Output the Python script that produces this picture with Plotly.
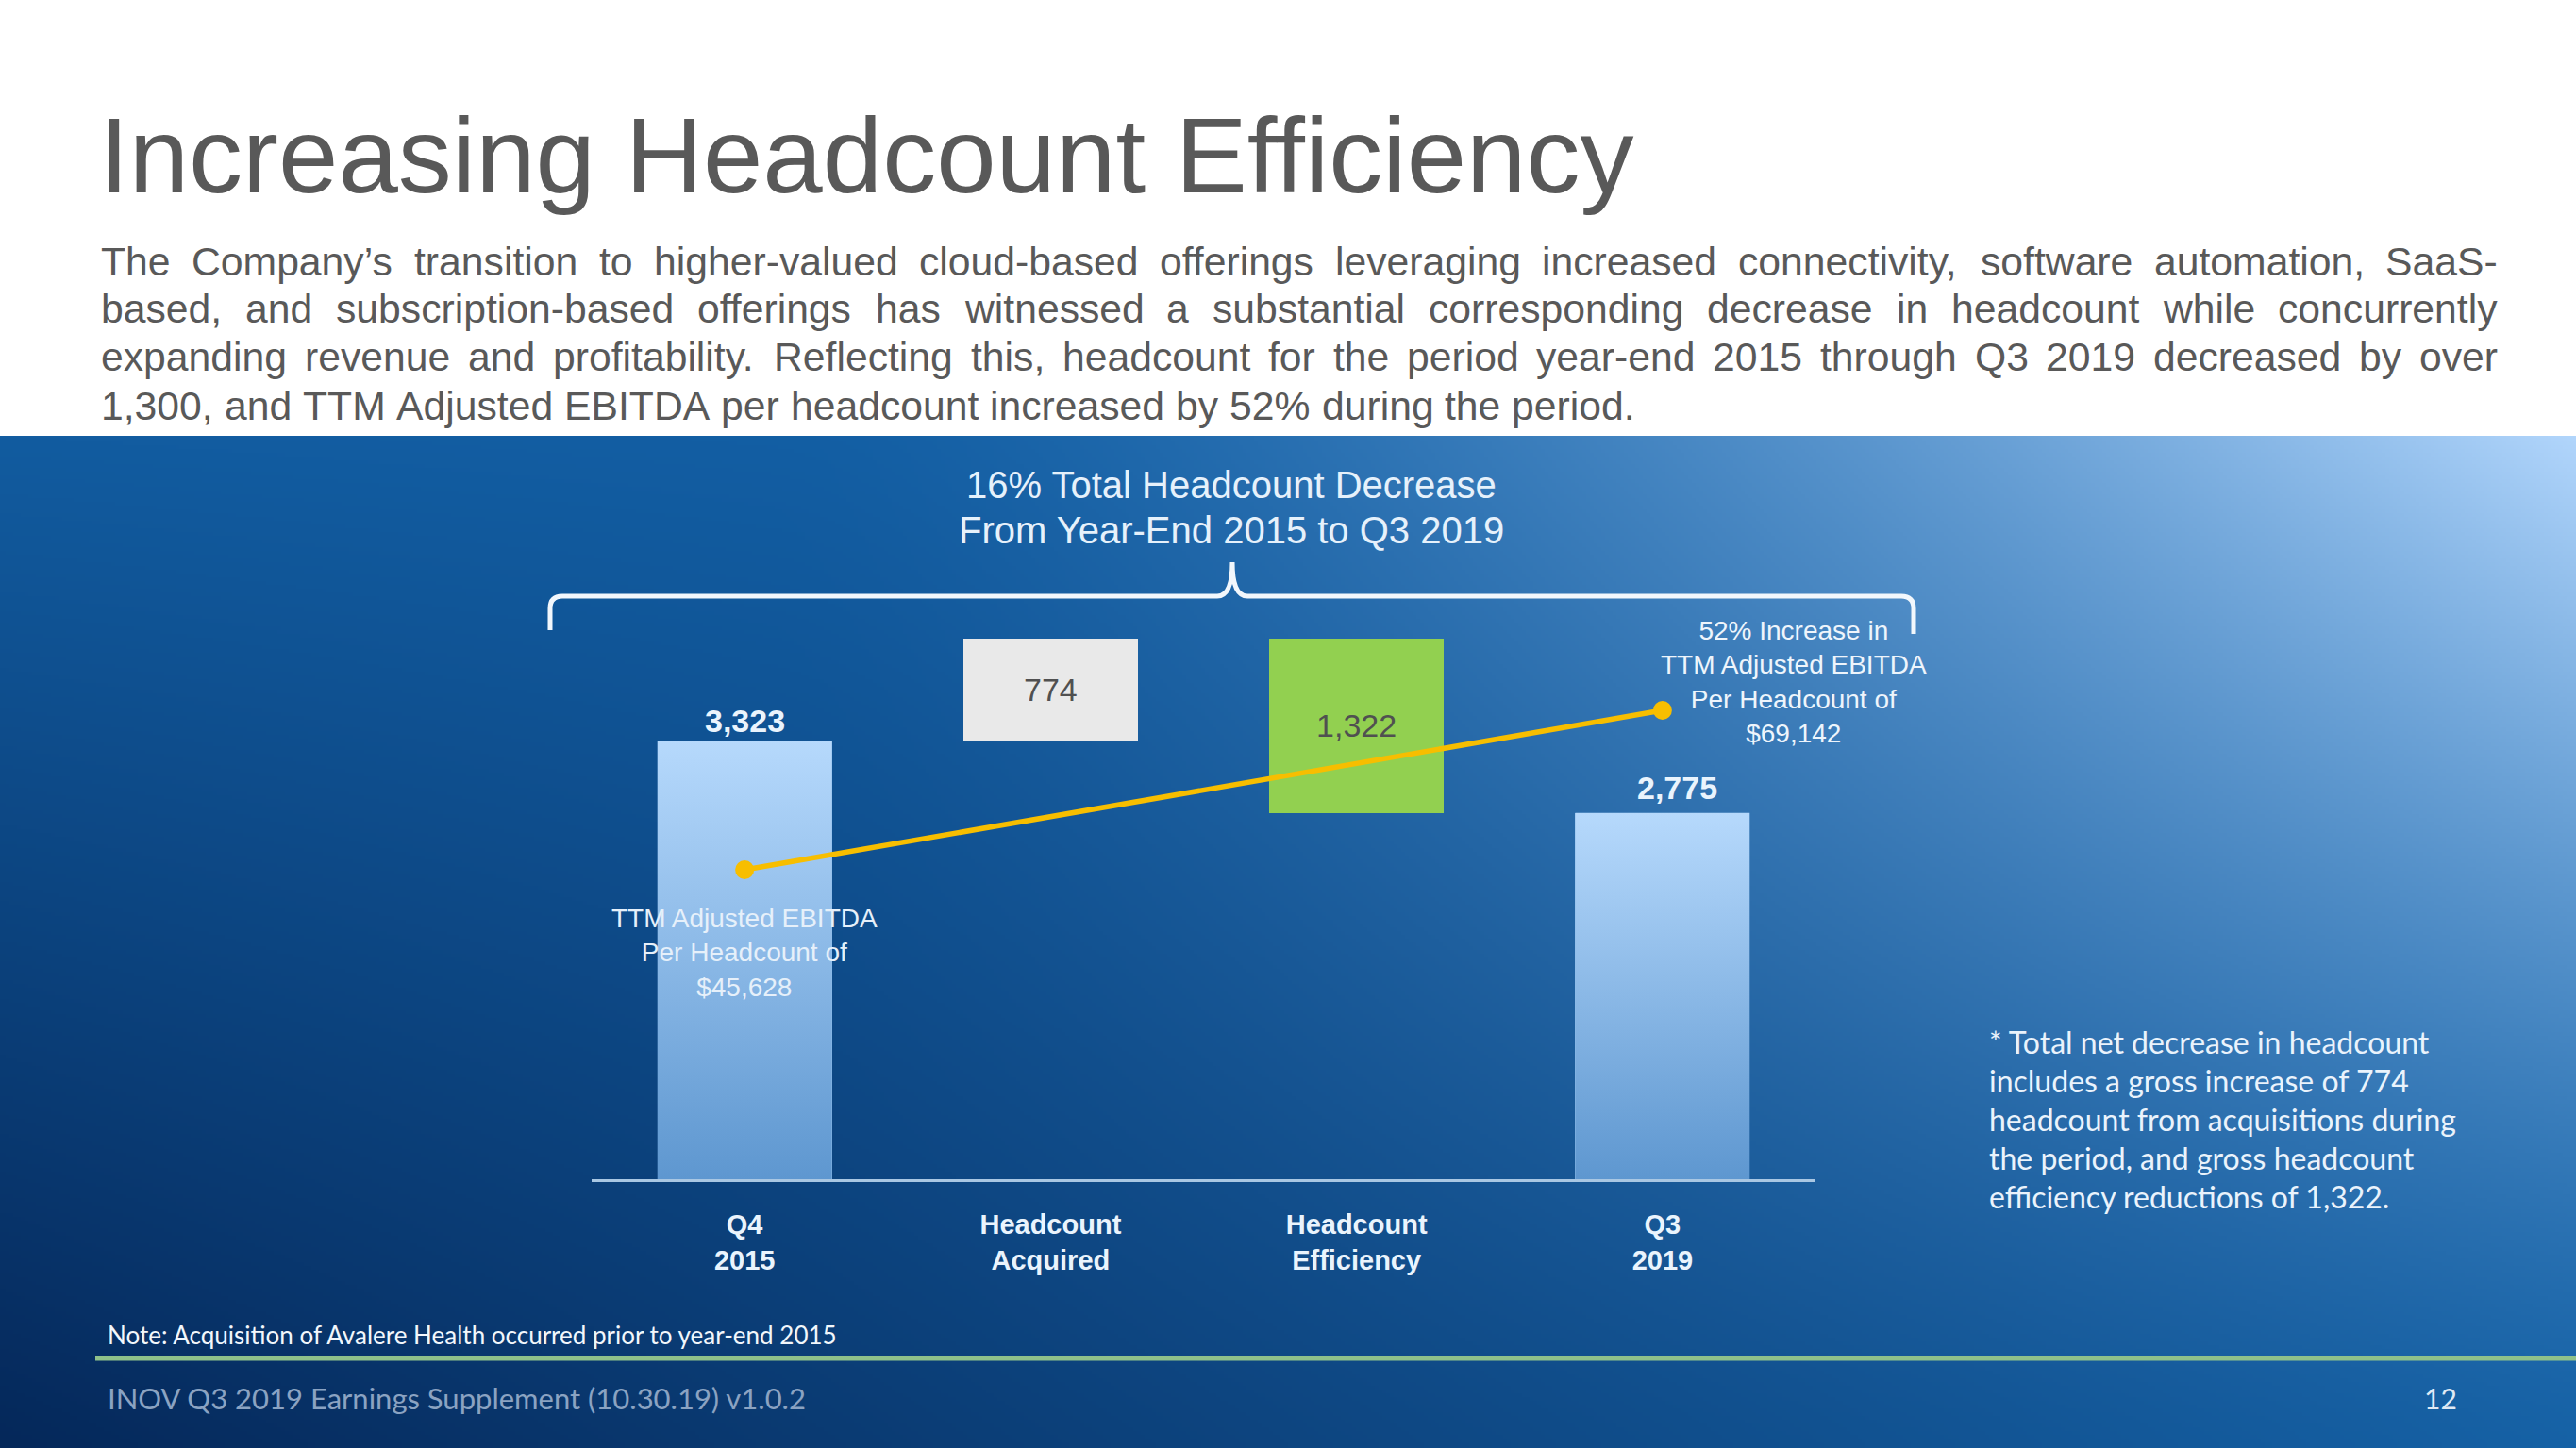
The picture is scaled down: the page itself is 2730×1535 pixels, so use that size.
import base64
import struct
import zlib

import numpy as np
import plotly.graph_objects as go

# ---------------- data ----------------
tick_labels = ["Q4<br>2015", "Headcount<br>Acquired", "Headcount<br>Efficiency", "Q3<br>2019"]
headcount_start = 3323        # Q4 2015
headcount_acquired = 774      # gross increase from acquisitions
headcount_efficiency = 1322   # gross efficiency reductions
headcount_end = 2775          # Q3 2019
ebitda_per_headcount = [45628, 69142]   # TTM Adjusted EBITDA per headcount, Q4 2015 / Q3 2019

title_text = "Increasing Headcount Efficiency"
paragraph_lines = [
    "The Company\u2019s transition to higher-valued cloud-based offerings leveraging increased connectivity, software automation, SaaS-",
    "based, and subscription-based offerings has witnessed a substantial corresponding decrease in headcount while concurrently",
    "expanding revenue and profitability. Reflecting this, headcount for the period year-end 2015 through Q3 2019 decreased by over",
    "1,300, and TTM Adjusted EBITDA per headcount increased by 52% during the period.",
]
side_note_lines = [
    "* Total net decrease in headcount",
    "includes a gross increase of 774",
    "headcount from acquisitions during",
    "the period, and gross headcount",
    "efficiency reductions of 1,322.",
]
bottom_note = "Note: Acquisition of Avalere Health occurred prior to year-end 2015"
footer_text = "INOV Q3 2019 Earnings Supplement (10.30.19) v1.0.2"
page_number = "12"

# ---------------- derived ----------------
bar_x = [0, 1, 2, 3]
bar_values = [headcount_start, headcount_acquired, headcount_efficiency, headcount_end]
bar_bases = [0, headcount_start, headcount_start + headcount_acquired - headcount_efficiency, 0]
decrease_pct = int(round((headcount_start - headcount_end) / headcount_start * 100))
increase_pct = int(round((ebitda_per_headcount[1] / ebitda_per_headcount[0] - 1) * 100))

W, H = 2730, 1535
ARIAL = "Liberation Sans, Arial, sans-serif"
CALI = "Lato, Open Sans, sans-serif"


def px(x):
    return x / W


def py(y):
    return 1 - y / H


# ---------------- background gradient image ----------------
def png_data_uri(arr):
    h, w, _ = arr.shape
    raw = b"".join(b"\x00" + arr[r].tobytes() for r in range(h))

    def chunk(t, d):
        return struct.pack(">I", len(d)) + t + d + struct.pack(">I", zlib.crc32(t + d) & 0xFFFFFFFF)

    png = (b"\x89PNG\r\n\x1a\n"
           + chunk(b"IHDR", struct.pack(">IIBBBBB", w, h, 8, 2, 0, 0, 0))
           + chunk(b"IDAT", zlib.compress(raw, 9))
           + chunk(b"IEND", b""))
    return "data:image/png;base64," + base64.b64encode(png).decode()


BG_TOP = 462
iw, ih = 683, 269
uu = np.linspace(0, 1, iw)[None, :, None]
vv = np.linspace(0, 1, ih)[:, None, None]
TL = np.array([18, 92, 160.0])
TR = np.array([20, 100, 172.0])
BL = np.array([5, 40, 90.0])
BR = np.array([22, 98, 166.0])
LIGHT = np.array([178, 214, 252.0])
base = TL * (1 - uu) * (1 - vv) + TR * uu * (1 - vv) + BL * (1 - uu) * vv + BR * uu * vv
s = np.clip((uu - 0.3) / 0.7, 0, 1) ** 1.6 * (1 - vv) ** 1.3
img = base + s * (LIGHT - base)
bg_uri = png_data_uri(np.clip(img, 0, 255).astype(np.uint8))

# ---------------- figure ----------------
BAR_W = 0.57
fig = go.Figure()

fig.add_trace(go.Bar(
    x=bar_x, y=bar_values, base=bar_bases, width=BAR_W,
    marker=dict(color=["#8dbce9", "#e9e9e9", "#92d050", "#8dbce9"], line=dict(width=0)),
    text=["", f"{headcount_acquired:,}", f"{headcount_efficiency:,}", ""],
    textposition="inside", insidetextanchor="middle", textangle=0,
    insidetextfont=dict(family=ARIAL, size=34, color="#505050"),
    hoverinfo="skip", showlegend=False,
))

# vertical gradient on the two total bars
for i in (0, 3):
    x0, x1 = bar_x[i] - BAR_W / 2, bar_x[i] + BAR_W / 2
    fig.add_trace(go.Scatter(
        x=[x0, x1, x1, x0, x0],
        y=[bar_bases[i], bar_bases[i], bar_bases[i] + bar_values[i], bar_bases[i] + bar_values[i], bar_bases[i]],
        mode="lines", fill="toself", line=dict(width=0),
        fillgradient=dict(type="vertical", colorscale=[[0, "#5e97d0"], [1, "#b6d9fc"]]),
        hoverinfo="skip", showlegend=False,
    ))

# EBITDA per headcount line (secondary axis)
fig.add_trace(go.Scatter(
    x=[bar_x[0], bar_x[3]], y=ebitda_per_headcount, yaxis="y2",
    mode="lines+markers",
    line=dict(color="#f7be00", width=5.5),
    marker=dict(color="#f7be00", size=20),
    hoverinfo="skip", showlegend=False,
))

annotations = []

# total bar labels
for i, ysh, xsh in ((0, 0, 0), (3, 6, 16)):
    annotations.append(dict(
        x=bar_x[i], y=bar_bases[i] + bar_values[i], xref="x", yref="y",
        text=f"<b>{bar_values[i]:,}</b>", showarrow=False, yanchor="bottom", xanchor="center",
        yshift=ysh, xshift=xsh,
        font=dict(family=ARIAL, size=34, color="#eaf4fd"),
    ))

# EBITDA labels
annotations.append(dict(
    x=bar_x[0], xref="x", y=py(1010), yref="paper",
    text=f"TTM Adjusted EBITDA<br>Per Headcount of<br>${ebitda_per_headcount[0]:,}",
    showarrow=False, align="center", xanchor="center", yanchor="middle",
    font=dict(family=ARIAL, size=28, color="#e6f0fa"),
))
annotations.append(dict(
    x=px(1901), xref="paper", y=py(723), yref="paper",
    text=f"{increase_pct}% Increase in<br>TTM Adjusted EBITDA<br>Per Headcount of<br>${ebitda_per_headcount[1]:,}",
    showarrow=False, align="center", xanchor="center", yanchor="middle",
    font=dict(family=ARIAL, size=28, color="#eef5fc"),
))

# brace title
for txt, yy in ((f"{decrease_pct}% Total Headcount Decrease", 514), ("From Year-End 2015 to Q3 2019", 562)):
    annotations.append(dict(
        x=px(1305), y=py(yy), xref="paper", yref="paper",
        text=txt, showarrow=False, xanchor="center", yanchor="middle",
        font=dict(family=ARIAL, size=40, color="#e6f1fb"),
    ))

# slide title
annotations.append(dict(
    x=px(103), y=py(164), xref="paper", yref="paper", xanchor="left", yanchor="middle",
    text=title_text, showarrow=False,
    font=dict(family=ARIAL, size=114, color="#595959"),
))

# justified paragraph (Arial / Liberation Sans advance widths, 1/1000 em)
AW = {" ": 278, ",": 278, "-": 333, ".": 278, "%": 889, "\u2019": 222, "$": 556,
      "A": 667, "B": 667, "C": 722, "D": 722, "E": 667, "F": 611, "G": 778, "H": 722,
      "I": 278, "J": 500, "K": 667, "L": 556, "M": 833, "N": 722, "O": 778, "P": 667,
      "Q": 778, "R": 722, "S": 667, "T": 611, "U": 722, "V": 667, "W": 944, "X": 667,
      "Y": 667, "Z": 611,
      "a": 556, "b": 556, "c": 500, "d": 556, "e": 556, "f": 278, "g": 556, "h": 556,
      "i": 222, "j": 222, "k": 500, "l": 222, "m": 833, "n": 556, "o": 556, "p": 556,
      "q": 556, "r": 333, "s": 500, "t": 278, "u": 556, "v": 500, "w": 722, "x": 500,
      "y": 500, "z": 500}
PF = 42.7
P_LEFT, P_WIDTH = 106, 2540
para_y = [277, 327, 378, 430]


def text_w(t):
    return sum(AW.get(c, 556) for c in t) * PF / 1000.0


for li, line in enumerate(paragraph_lines):
    words = line.split(" ")
    if li < len(paragraph_lines) - 1:
        gap = (P_WIDTH - sum(text_w(w) for w in words)) / (len(words) - 1)
    else:
        gap = text_w(" ")
    xpos = P_LEFT
    for w in words:
        annotations.append(dict(
            x=px(xpos), y=py(para_y[li]), xref="paper", yref="paper",
            xanchor="left", yanchor="middle", text=w, showarrow=False,
            borderpad=0, font=dict(family=ARIAL, size=PF, color="#595959"),
        ))
        xpos += text_w(w) + gap

# side note
for i, line in enumerate(side_note_lines):
    annotations.append(dict(
        x=px(2106), y=py(1104 + 41 * i), xref="paper", yref="paper",
        xanchor="left", yanchor="middle", text=line, showarrow=False,
        font=dict(family=CALI, size=32, color="#eaf3fc"),
    ))

# bottom note and footer
annotations.append(dict(
    x=px(112), y=py(1415), xref="paper", yref="paper", xanchor="left", yanchor="middle",
    text=bottom_note, showarrow=False, font=dict(family=CALI, size=26, color="#f2f7fc"),
))
annotations.append(dict(
    x=px(112), y=py(1482), xref="paper", yref="paper", xanchor="left", yanchor="middle",
    text=footer_text, showarrow=False, font=dict(family=CALI, size=31, color="#8ba3c2"),
))
annotations.append(dict(
    x=px(2586), y=py(1482), xref="paper", yref="paper", xanchor="center", yanchor="middle",
    text=page_number, showarrow=False, font=dict(family=CALI, size=30, color="#dfe9f4"),
))


def P(x, y):
    return f"{px(x):.6f},{py(y):.6f}"


brace = (f"M {P(583, 668)} L {P(583, 645)} Q {P(583, 632)} {P(596, 632)} "
         f"L {P(1290, 632)} Q {P(1306, 632)} {P(1306, 596)} Q {P(1306, 632)} {P(1322, 632)} "
         f"L {P(2015, 632)} Q {P(2028, 632)} {P(2028, 645)} L {P(2028, 672)}")

shapes = [
    dict(type="path", path=brace, xref="paper", yref="paper",
         line=dict(color="#f2f7fc", width=5), layer="above"),
    dict(type="line", x0=px(101), x1=px(2730), y0=py(1440), y1=py(1440),
         xref="paper", yref="paper", line=dict(color="#8fc18a", width=5)),
]

Y_DOM_BOT, Y_DOM_TOP = 1250, 560
Y_MAX = (Y_DOM_BOT - Y_DOM_TOP) / (465.0 / 3323)
Y2_MAX = (Y_DOM_BOT - Y_DOM_TOP) / 0.0071875

fig.update_layout(
    width=W, height=H, autosize=False,
    margin=dict(l=0, r=0, t=0, b=0, pad=0),
    paper_bgcolor="#ffffff", plot_bgcolor="rgba(0,0,0,0)",
    showlegend=False, bargap=0,
    images=[dict(source=bg_uri, xref="paper", yref="paper", x=0, y=py(BG_TOP),
                 sizex=1, sizey=(H - BG_TOP) / H, xanchor="left", yanchor="top",
                 sizing="stretch", layer="below")],
    xaxis=dict(domain=[px(627), px(1924)], range=[-0.5, 3.5],
               tickvals=bar_x, ticktext=tick_labels,
               tickfont=dict(family=ARIAL, size=29, color="#eaf4fd", weight="bold"),
               ticks="", ticklabelstandoff=20,
               showgrid=False, zeroline=False, showline=True,
               linecolor="#a9c7e3", linewidth=3, fixedrange=True),
    yaxis=dict(domain=[py(Y_DOM_BOT), py(Y_DOM_TOP)], range=[0, Y_MAX], visible=False,
               fixedrange=True),
    yaxis2=dict(overlaying="y", range=[0, Y2_MAX], visible=False, fixedrange=True),
    annotations=annotations,
    shapes=shapes,
)

fig.write_html("out.html",
               config={"displayModeBar": False, "staticPlot": True},
               post_script="document.body.style.margin='0px';document.body.style.overflow='hidden';")
